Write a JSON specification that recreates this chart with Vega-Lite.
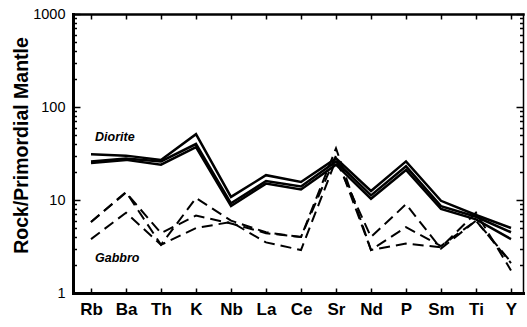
{
  "$schema": "https://vega.github.io/schema/vega-lite/v6.json",
  "width": 450,
  "height": 279,
  "autosize": {"type": "none"},
  "padding": {"left": 73, "top": 14, "right": 4, "bottom": 34},
  "background": "white",
  "config": {
    "view": {"stroke": null},
    "font": "Liberation Sans",
    "axis": {"grid": false, "tickColor": "black", "domainColor": "black", "labelColor": "black", "titleColor": "black"}
  },
  "datasets": {
    "spider": [
      {"rock": "Diorite", "sample": "D1", "element": "Rb", "value": 31},
      {"rock": "Diorite", "sample": "D1", "element": "Ba", "value": 30},
      {"rock": "Diorite", "sample": "D1", "element": "Th", "value": 27},
      {"rock": "Diorite", "sample": "D1", "element": "K", "value": 51},
      {"rock": "Diorite", "sample": "D1", "element": "Nb", "value": 10.8},
      {"rock": "Diorite", "sample": "D1", "element": "La", "value": 18.5},
      {"rock": "Diorite", "sample": "D1", "element": "Ce", "value": 15.6},
      {"rock": "Diorite", "sample": "D1", "element": "Sr", "value": 28},
      {"rock": "Diorite", "sample": "D1", "element": "Nd", "value": 12.5},
      {"rock": "Diorite", "sample": "D1", "element": "P", "value": 26},
      {"rock": "Diorite", "sample": "D1", "element": "Sm", "value": 9.8},
      {"rock": "Diorite", "sample": "D1", "element": "Ti", "value": 6.9},
      {"rock": "Diorite", "sample": "D1", "element": "Y", "value": 5.0},
      {"rock": "Diorite", "sample": "D2", "element": "Rb", "value": 26},
      {"rock": "Diorite", "sample": "D2", "element": "Ba", "value": 28},
      {"rock": "Diorite", "sample": "D2", "element": "Th", "value": 26},
      {"rock": "Diorite", "sample": "D2", "element": "K", "value": 40},
      {"rock": "Diorite", "sample": "D2", "element": "Nb", "value": 9.2},
      {"rock": "Diorite", "sample": "D2", "element": "La", "value": 16},
      {"rock": "Diorite", "sample": "D2", "element": "Ce", "value": 14},
      {"rock": "Diorite", "sample": "D2", "element": "Sr", "value": 26},
      {"rock": "Diorite", "sample": "D2", "element": "Nd", "value": 11.2},
      {"rock": "Diorite", "sample": "D2", "element": "P", "value": 23},
      {"rock": "Diorite", "sample": "D2", "element": "Sm", "value": 8.6},
      {"rock": "Diorite", "sample": "D2", "element": "Ti", "value": 6.6},
      {"rock": "Diorite", "sample": "D2", "element": "Y", "value": 4.5},
      {"rock": "Diorite", "sample": "D3", "element": "Rb", "value": 25},
      {"rock": "Diorite", "sample": "D3", "element": "Ba", "value": 27},
      {"rock": "Diorite", "sample": "D3", "element": "Th", "value": 24},
      {"rock": "Diorite", "sample": "D3", "element": "K", "value": 37},
      {"rock": "Diorite", "sample": "D3", "element": "Nb", "value": 8.6},
      {"rock": "Diorite", "sample": "D3", "element": "La", "value": 15},
      {"rock": "Diorite", "sample": "D3", "element": "Ce", "value": 13},
      {"rock": "Diorite", "sample": "D3", "element": "Sr", "value": 24},
      {"rock": "Diorite", "sample": "D3", "element": "Nd", "value": 10.3},
      {"rock": "Diorite", "sample": "D3", "element": "P", "value": 21},
      {"rock": "Diorite", "sample": "D3", "element": "Sm", "value": 8.0},
      {"rock": "Diorite", "sample": "D3", "element": "Ti", "value": 6.2},
      {"rock": "Diorite", "sample": "D3", "element": "Y", "value": 3.8},
      {"rock": "Gabbro", "sample": "G1", "element": "Rb", "value": 5.8},
      {"rock": "Gabbro", "sample": "G1", "element": "Ba", "value": 12.2},
      {"rock": "Gabbro", "sample": "G1", "element": "Th", "value": 3.3},
      {"rock": "Gabbro", "sample": "G1", "element": "K", "value": 10.5},
      {"rock": "Gabbro", "sample": "G1", "element": "Nb", "value": 6.0},
      {"rock": "Gabbro", "sample": "G1", "element": "La", "value": 4.5},
      {"rock": "Gabbro", "sample": "G1", "element": "Ce", "value": 4.0},
      {"rock": "Gabbro", "sample": "G1", "element": "Sr", "value": 36},
      {"rock": "Gabbro", "sample": "G1", "element": "Nd", "value": 2.9},
      {"rock": "Gabbro", "sample": "G1", "element": "P", "value": 3.4},
      {"rock": "Gabbro", "sample": "G1", "element": "Sm", "value": 3.1},
      {"rock": "Gabbro", "sample": "G1", "element": "Ti", "value": 7.3},
      {"rock": "Gabbro", "sample": "G1", "element": "Y", "value": 1.75},
      {"rock": "Gabbro", "sample": "G2", "element": "Rb", "value": 3.8},
      {"rock": "Gabbro", "sample": "G2", "element": "Ba", "value": 7.3},
      {"rock": "Gabbro", "sample": "G2", "element": "Th", "value": 3.3},
      {"rock": "Gabbro", "sample": "G2", "element": "K", "value": 5.0},
      {"rock": "Gabbro", "sample": "G2", "element": "Nb", "value": 5.8},
      {"rock": "Gabbro", "sample": "G2", "element": "La", "value": 3.5},
      {"rock": "Gabbro", "sample": "G2", "element": "Ce", "value": 2.9},
      {"rock": "Gabbro", "sample": "G2", "element": "Sr", "value": 27},
      {"rock": "Gabbro", "sample": "G2", "element": "Nd", "value": 4.0},
      {"rock": "Gabbro", "sample": "G2", "element": "P", "value": 9.0},
      {"rock": "Gabbro", "sample": "G2", "element": "Sm", "value": 3.0},
      {"rock": "Gabbro", "sample": "G2", "element": "Ti", "value": 6.0},
      {"rock": "Gabbro", "sample": "G2", "element": "Y", "value": 2.15},
      {"rock": "Gabbro", "sample": "G3", "element": "Rb", "value": 5.8},
      {"rock": "Gabbro", "sample": "G3", "element": "Ba", "value": 12.0},
      {"rock": "Gabbro", "sample": "G3", "element": "Th", "value": 4.4},
      {"rock": "Gabbro", "sample": "G3", "element": "K", "value": 6.8},
      {"rock": "Gabbro", "sample": "G3", "element": "Nb", "value": 5.6},
      {"rock": "Gabbro", "sample": "G3", "element": "La", "value": 4.4},
      {"rock": "Gabbro", "sample": "G3", "element": "Ce", "value": 4.0},
      {"rock": "Gabbro", "sample": "G3", "element": "Sr", "value": 30},
      {"rock": "Gabbro", "sample": "G3", "element": "Nd", "value": 2.9},
      {"rock": "Gabbro", "sample": "G3", "element": "P", "value": 5.1},
      {"rock": "Gabbro", "sample": "G3", "element": "Sm", "value": 3.2},
      {"rock": "Gabbro", "sample": "G3", "element": "Ti", "value": 6.0},
      {"rock": "Gabbro", "sample": "G3", "element": "Y", "value": 2.1}
    ],
    "labels": [
      {"text": "Diorite", "element": "Rb", "value": 48},
      {"text": "Gabbro", "element": "Rb", "value": 2.38}
    ]
  },
  "resolve": {"axis": {"x": "independent", "y": "independent"}},
  "layer": [
    {
      "data": {"name": "spider"},
      "transform": [{"filter": "datum.rock === 'Diorite'"}],
      "mark": {"type": "line", "stroke": "black", "strokeWidth": 2.5, "strokeJoin": "miter"},
      "encoding": {
        "x": {
          "field": "element", "type": "ordinal",
          "sort": ["Rb", "Ba", "Th", "K", "Nb", "La", "Ce", "Sr", "Nd", "P", "Sm", "Ti", "Y"],
          "scale": {"type": "point", "padding": 0.4286, "align": 0.6},
          "axis": {"orient": "bottom", "title": null, "ticks": false, "domain": true, "domainWidth": 3, "domainCap": "square",
                   "labelFontSize": 17, "labelFontWeight": "bold", "labelPadding": 8, "labelAngle": 0}
        },
        "y": {
          "field": "value", "type": "quantitative",
          "scale": {"type": "log", "domain": [1, 1000], "nice": false},
          "axis": {"orient": "left", "values": [1, 10, 100, 1000], "format": "d", "ticks": false,
                   "domain": true, "domainWidth": 3, "domainCap": "square",
                   "labelFontSize": 14.5, "labelPadding": 8,
                   "title": "Rock/Primordial Mantle", "titleFontSize": 19.5, "titleFontWeight": "bold",
                   "titleAngle": -90, "titleX": -52, "titleY": 131, "titleAlign": "center", "titleBaseline": "middle"}
        },
        "detail": {"field": "sample"}
      }
    },
    {
      "data": {"name": "spider"},
      "transform": [{"filter": "datum.rock === 'Gabbro'"}],
      "mark": {"type": "line", "stroke": "black", "strokeWidth": 2, "strokeDash": [11, 6]},
      "encoding": {
        "x": {"field": "element", "type": "ordinal", "sort": ["Rb", "Ba", "Th", "K", "Nb", "La", "Ce", "Sr", "Nd", "P", "Sm", "Ti", "Y"], "axis": null},
        "y": {"field": "value", "type": "quantitative", "axis": null},
        "detail": {"field": "sample"}
      }
    },
    {
      "data": {"name": "spider"},
      "mark": {"type": "point", "opacity": 0},
      "encoding": {
        "x": {"field": "element", "type": "ordinal", "sort": ["Rb", "Ba", "Th", "K", "Nb", "La", "Ce", "Sr", "Nd", "P", "Sm", "Ti", "Y"],
              "axis": {"orient": "bottom", "title": null, "labels": false, "domain": false, "tickSize": -5, "tickWidth": 1.5}},
        "y": {"field": "value", "type": "quantitative",
              "axis": {"orient": "left", "title": null, "labels": false, "domain": false, "values": [1, 10, 100, 1000], "tickSize": -7, "tickWidth": 1.5}}
      }
    },
    {
      "data": {"name": "spider"},
      "mark": {"type": "point", "opacity": 0},
      "encoding": {
        "x": {"field": "element", "type": "ordinal", "sort": ["Rb", "Ba", "Th", "K", "Nb", "La", "Ce", "Sr", "Nd", "P", "Sm", "Ti", "Y"],
              "axis": {"orient": "top", "title": null, "labels": false, "domain": true, "domainWidth": 2.5, "domainCap": "square", "tickSize": -5, "tickWidth": 1.5}},
        "y": {"field": "value", "type": "quantitative",
              "axis": {"orient": "left", "title": null, "labels": false, "domain": false,
                       "values": [2, 3, 4, 5, 6, 7, 8, 9, 20, 30, 40, 50, 60, 70, 80, 90, 200, 300, 400, 500, 600, 700, 800, 900],
                       "tickSize": -3.5, "tickWidth": 1.5}}
      }
    },
    {
      "data": {"name": "spider"},
      "mark": {"type": "point", "opacity": 0},
      "encoding": {
        "x": {"field": "element", "type": "ordinal", "sort": ["Rb", "Ba", "Th", "K", "Nb", "La", "Ce", "Sr", "Nd", "P", "Sm", "Ti", "Y"], "axis": null},
        "y": {"field": "value", "type": "quantitative",
              "axis": {"orient": "right", "title": null, "labels": false, "domain": true, "domainWidth": 1.5, "domainCap": "square",
                       "values": [1, 10, 100, 1000], "tickSize": -7, "tickWidth": 1.5}}
      }
    },
    {
      "data": {"name": "spider"},
      "mark": {"type": "point", "opacity": 0},
      "encoding": {
        "x": {"field": "element", "type": "ordinal", "sort": ["Rb", "Ba", "Th", "K", "Nb", "La", "Ce", "Sr", "Nd", "P", "Sm", "Ti", "Y"], "axis": null},
        "y": {"field": "value", "type": "quantitative",
              "axis": {"orient": "right", "title": null, "labels": false, "domain": false,
                       "values": [2, 3, 4, 5, 6, 7, 8, 9, 20, 30, 40, 50, 60, 70, 80, 90, 200, 300, 400, 500, 600, 700, 800, 900],
                       "tickSize": -3.5, "tickWidth": 1.5}}
      }
    },
    {
      "data": {"name": "labels"},
      "mark": {"type": "text", "align": "left", "baseline": "middle", "dx": 4, "fontSize": 12.5, "fontWeight": "bold", "fontStyle": "italic", "color": "black"},
      "encoding": {
        "x": {"field": "element", "type": "ordinal", "sort": ["Rb", "Ba", "Th", "K", "Nb", "La", "Ce", "Sr", "Nd", "P", "Sm", "Ti", "Y"], "axis": null},
        "y": {"field": "value", "type": "quantitative", "axis": null},
        "text": {"field": "text"}
      }
    }
  ]
}
